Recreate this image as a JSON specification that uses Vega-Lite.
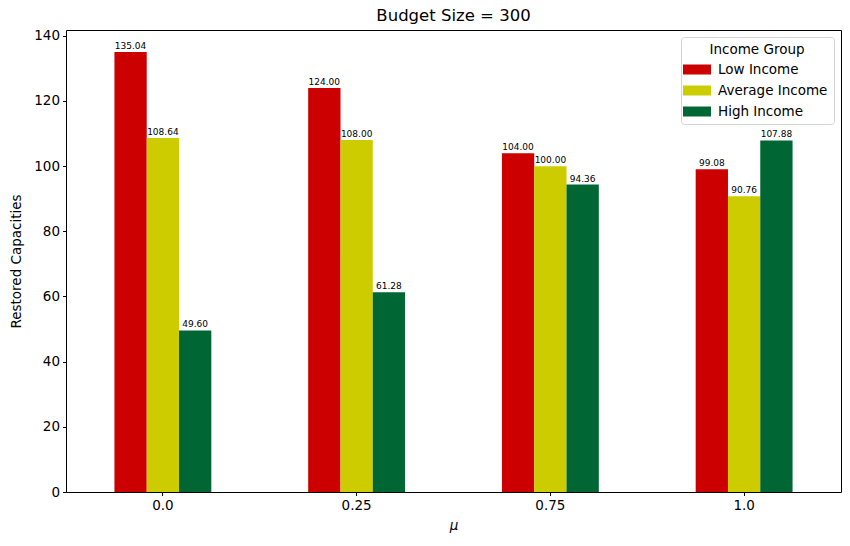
{
  "$schema": "https://vega.github.io/schema/vega-lite/v6.json",
  "width": 775,
  "height": 462,
  "autosize": "none",
  "padding": {"left": 66, "top": 30, "right": 9, "bottom": 54},
  "background": "white",
  "config": {
    "font": "DejaVu Sans",
    "view": {"stroke": "black", "strokeWidth": 1},
    "axis": {
      "domain": false,
      "grid": false,
      "tickColor": "black",
      "tickSize": 3.5,
      "labelColor": "black",
      "labelFontSize": 13.5,
      "labelPadding": 3,
      "titleColor": "black",
      "titleFontSize": 13.5,
      "titleFontWeight": "normal"
    }
  },
  "title": {"text": "Budget Size = 300", "fontSize": 16.5, "fontWeight": "normal", "color": "black", "offset": 4},
  "data": {
    "values": [
      {"mu": "0.0", "group": "Low Income", "value": 135.04},
      {"mu": "0.0", "group": "Average Income", "value": 108.64},
      {"mu": "0.0", "group": "High Income", "value": 49.60},
      {"mu": "0.25", "group": "Low Income", "value": 124.00},
      {"mu": "0.25", "group": "Average Income", "value": 108.00},
      {"mu": "0.25", "group": "High Income", "value": 61.28},
      {"mu": "0.75", "group": "Low Income", "value": 104.00},
      {"mu": "0.75", "group": "Average Income", "value": 100.00},
      {"mu": "0.75", "group": "High Income", "value": 94.36},
      {"mu": "1.0", "group": "Low Income", "value": 99.08},
      {"mu": "1.0", "group": "Average Income", "value": 90.76},
      {"mu": "1.0", "group": "High Income", "value": 107.88}
    ]
  },
  "encoding": {
    "x": {
      "field": "mu",
      "type": "nominal",
      "sort": ["0.0", "0.25", "0.75", "1.0"],
      "scale": {"paddingInner": 0.5, "paddingOuter": 0.25},
      "axis": {"labelAngle": 0, "title": "μ", "titleFontStyle": "italic", "titlePadding": 6}
    },
    "xOffset": {
      "field": "group",
      "type": "nominal",
      "sort": ["Low Income", "Average Income", "High Income"],
      "scale": {"paddingInner": 0, "paddingOuter": 0}
    },
    "y": {
      "field": "value",
      "type": "quantitative",
      "scale": {"domain": [0, 141.79], "nice": false},
      "axis": {"title": "Restored Capacities", "values": [0, 20, 40, 60, 80, 100, 120, 140], "titlePadding": 10}
    }
  },
  "layer": [
    {
      "mark": {"type": "bar"},
      "encoding": {
        "color": {
          "field": "group",
          "type": "nominal",
          "sort": ["Low Income", "Average Income", "High Income"],
          "scale": {"domain": ["Low Income", "Average Income", "High Income"], "range": ["#cc0000", "#cccc00", "#006633"]},
          "legend": {
            "title": "Income Group",
            "orient": "top-right",
            "offset": 7,
            "titleAnchor": "middle",
            "titleFontSize": 13.5,
            "titleFontWeight": "normal",
            "titleColor": "black",
            "titlePadding": 3,
            "labelFontSize": 13.5,
            "labelColor": "black",
            "labelOffset": 11,
            "rowPadding": 4,
            "symbolType": "M-1.4,-0.5H1.4V0.5H-1.4Z",
            "symbolSize": 400,
            "symbolStrokeWidth": 0,
            "strokeColor": "#d5d5d5",
            "cornerRadius": 3,
            "fillColor": "white",
            "padding": 6
          }
        }
      }
    },
    {
      "mark": {"type": "text", "baseline": "bottom", "dy": -1, "fontSize": 9, "color": "black"},
      "encoding": {
        "text": {"field": "value", "type": "quantitative", "format": ".2f"}
      }
    }
  ]
}
